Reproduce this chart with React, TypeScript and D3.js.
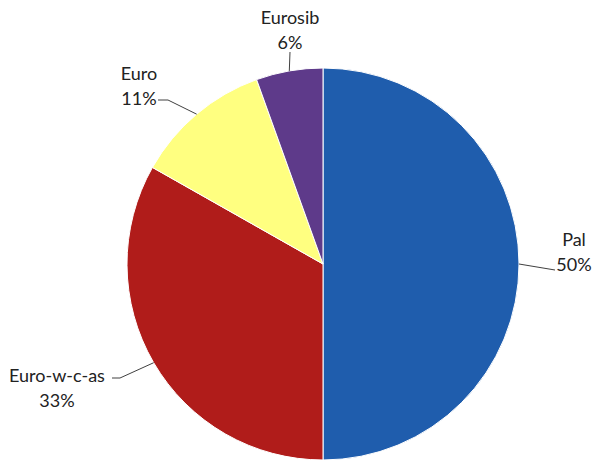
import React from "react";
import * as d3 from "d3";

const categories = ["Pal", "Euro-w-c-as", "Euro", "Eurosib"];
const values = [50, 33.2, 11.3, 5.5];
const pctLabels = ["50%", "33%", "11%", "6%"];
const colors = ["#1F5DAD", "#B01C1A", "#FFFF80", "#5E3A8A"];

// label anchor positions (text center x, name baseline y) and leader end points
const labelPos = [
  { x: 574, y: 246, lx: 555, ly: 270, elbow: null as null | [number, number] },
  { x: 57, y: 382, lx: 112, ly: 378, elbow: [120, 378] as [number, number] },
  { x: 139, y: 80, lx: 158, ly: 100, elbow: [168, 100] as [number, number] },
  { x: 290, y: 24, lx: 290, ly: 52, elbow: null as null | [number, number] },
];

export default function App() {
  const width = 596;
  const height = 461;
  const cx = 323;
  const cy = 264;
  const r = 196;

  const pie = d3.pie<number>().sort(null).value((d) => d);
  const arcs = pie(values);
  const arc = d3.arc<d3.PieArcDatum<number>>().innerRadius(0).outerRadius(r);

  return (
    <svg
      width={width}
      height={height}
      style={{ position: "absolute", left: 0, top: 0, background: "#fff" }}
      fontFamily="Lato, 'Open Sans', sans-serif"
    >
      <g transform={`translate(${cx},${cy})`}>
        {arcs.map((a, i) => (
          <path key={i} d={arc(a) || ""} fill={colors[i]} stroke="#fff" strokeWidth={1} />
        ))}
      </g>
      {arcs.map((a, i) => {
        const mid = (a.startAngle + a.endAngle) / 2;
        const px = cx + Math.sin(mid) * r;
        const py = cy - Math.cos(mid) * r;
        const lp = labelPos[i];
        const pts: [number, number][] = [[lp.lx, lp.ly]];
        if (lp.elbow) pts.push(lp.elbow);
        pts.push([px, py]);
        const line = d3.line()(pts) || "";
        return (
          <g key={"l" + i}>
            <path d={line} fill="none" stroke="#404040" strokeWidth={1} />
            <text x={lp.x} y={lp.y} textAnchor="middle" fontSize={18} fill="#222">
              {categories[i]}
            </text>
            <text x={lp.x} y={lp.y + 25} textAnchor="middle" fontSize={18} fill="#222">
              {pctLabels[i]}
            </text>
          </g>
        );
      })}
    </svg>
  );
}
